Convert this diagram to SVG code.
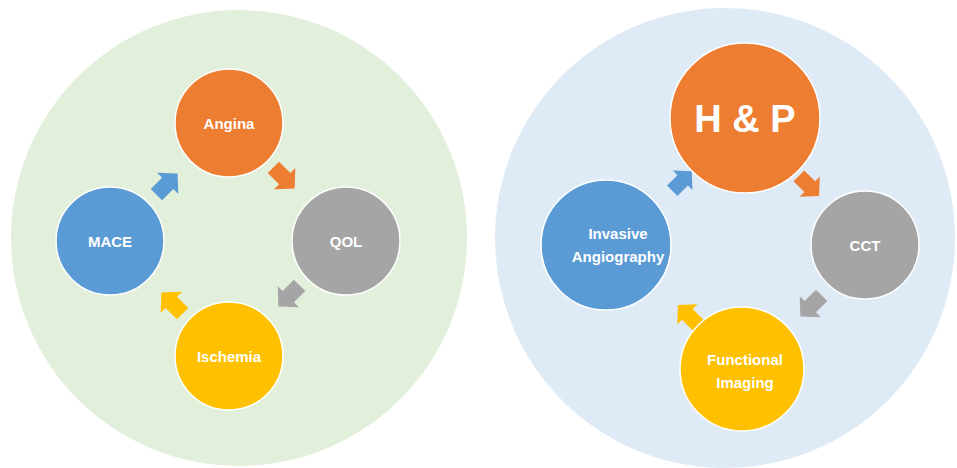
<svg xmlns="http://www.w3.org/2000/svg" width="957" height="468" viewBox="0 0 957 468">
  <style>
    .lbl { font-family: "Liberation Sans", Arial, sans-serif; font-weight: bold; fill: #ffffff; text-anchor: middle; dominant-baseline: central; font-size: 15px; }
    .node { stroke: #ffffff; stroke-width: 1.5; }
    .orange { fill: #ed7d31; }
    .gray { fill: #a5a5a5; }
    .yellow { fill: #ffc000; }
    .blue { fill: #5b9bd5; }
  </style>
  <defs>
    <!-- block arrow pointing right, centred on the origin -->
    <polygon id="blk" points="-15,-8 1,-8 1,-15 15,0 1,15 1,8 -15,8"/>
  </defs>
  <rect width="957" height="468" fill="#ffffff"/>

  <!-- backgrounds -->
  <circle id="cycle-left" cx="239" cy="238" r="228" fill="#e2efda"/>
  <circle id="cycle-right" cx="725" cy="238" r="230" fill="#deebf7"/>

  <!-- connectors -->
  <g id="connectors">
    <use href="#blk" class="blue" transform="translate(167,184) rotate(-45)"/>
    <use href="#blk" class="orange" transform="translate(284,178) rotate(45)"/>
    <use href="#blk" class="gray" transform="translate(289,296) rotate(135)"/>
    <use href="#blk" class="yellow" transform="translate(172,303) rotate(-135)"/>

    <use href="#blk" class="blue" transform="translate(682,181) rotate(-45) scale(0.92)"/>
    <use href="#blk" class="orange" transform="translate(809,186) rotate(45) scale(0.95)"/>
    <use href="#blk" class="gray" transform="translate(811,306) rotate(135)"/>
    <use href="#blk" class="yellow" transform="translate(688,315) rotate(-135) scale(0.95)"/>
  </g>

  <!-- left cycle -->
  <g id="angina">
    <circle class="node orange" cx="229" cy="123" r="54"/>
    <text class="lbl" x="229" y="123">Angina</text>
  </g>
  <g id="qol">
    <circle class="node gray" cx="346" cy="241" r="54"/>
    <text class="lbl" x="346" y="241">QOL</text>
  </g>
  <g id="ischemia">
    <circle class="node yellow" cx="229" cy="356" r="54"/>
    <text class="lbl" x="229" y="356">Ischemia</text>
  </g>
  <g id="mace">
    <circle class="node blue" cx="110" cy="241" r="54"/>
    <text class="lbl" x="110" y="241">MACE</text>
  </g>

  <!-- right cycle -->
  <g id="hp">
    <circle class="node orange" cx="745" cy="118" r="75"/>
    <text class="lbl" x="745" y="119" style="font-size:38px">H &amp; P</text>
  </g>
  <g id="cct">
    <circle class="node gray" cx="865" cy="245" r="54"/>
    <text class="lbl" x="865" y="245">CCT</text>
  </g>
  <g id="functional-imaging">
    <circle class="node yellow" cx="742" cy="369" r="62"/>
    <text class="lbl" x="745" y="359">Functional</text>
    <text class="lbl" x="745" y="382">Imaging</text>
  </g>
  <g id="invasive-angiography">
    <circle class="node blue" cx="606" cy="245" r="65"/>
    <text class="lbl" x="618" y="233">Invasive</text>
    <text class="lbl" x="618" y="256">Angiography</text>
  </g>
</svg>
